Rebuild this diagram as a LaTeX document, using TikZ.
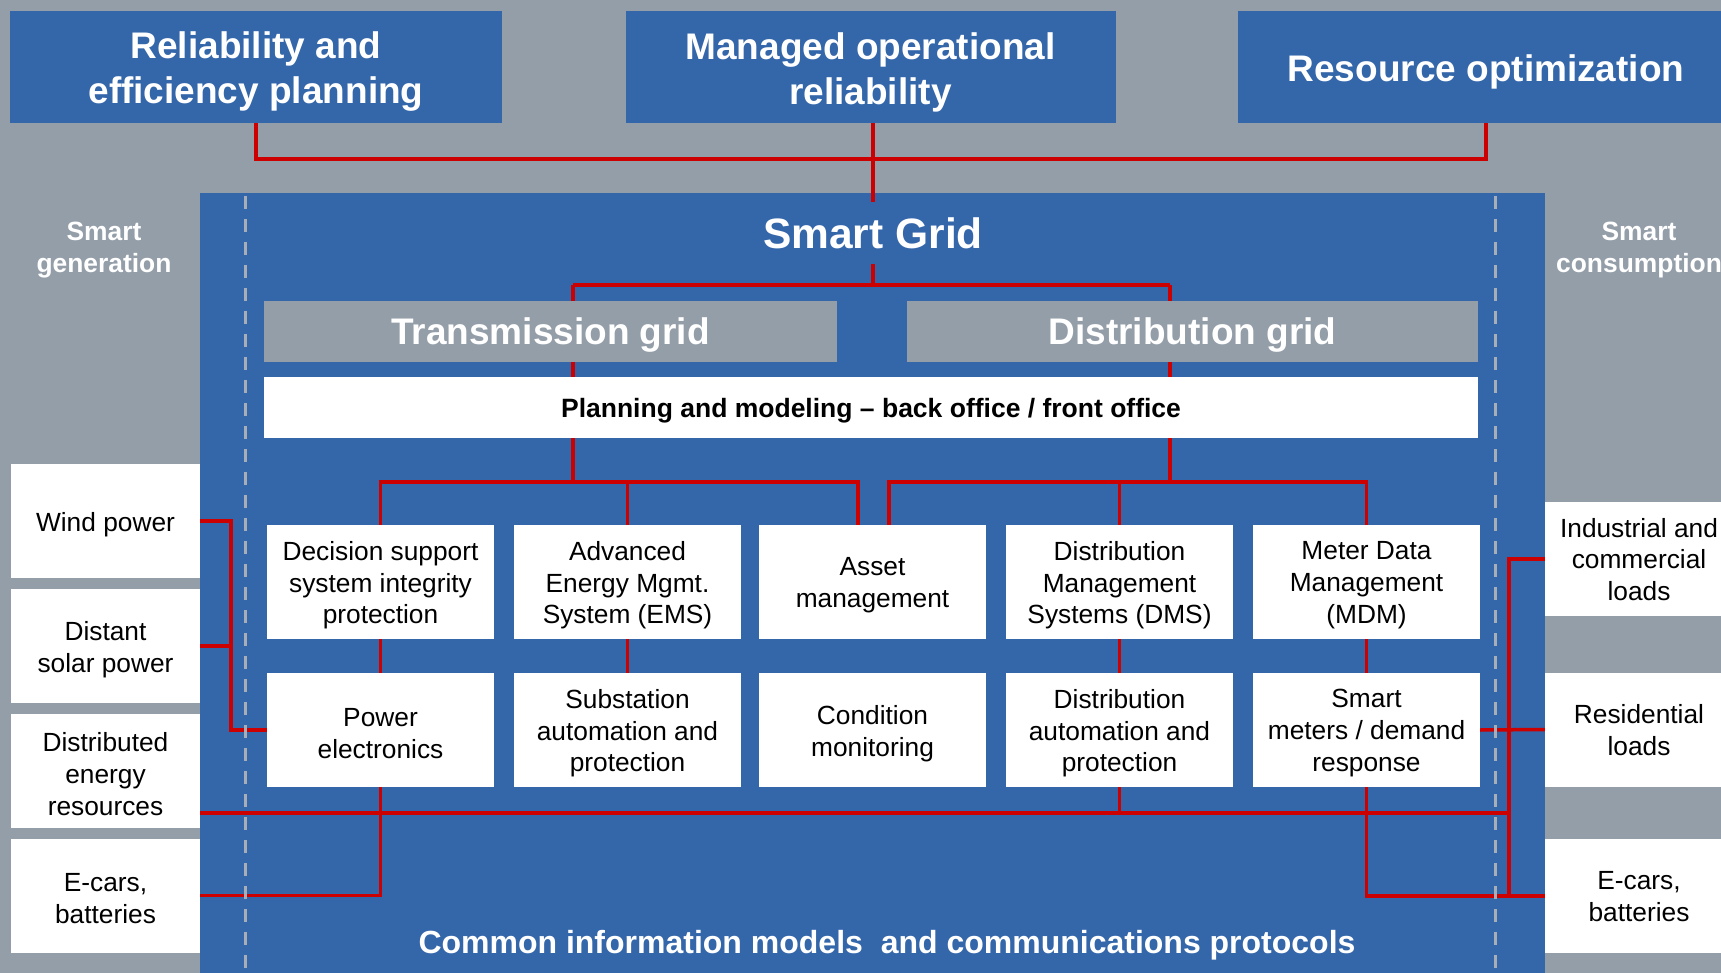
\documentclass[tikz,border=0pt]{standalone}
\usepackage{fontspec}
\setmainfont{Liberation Sans}
\usetikzlibrary{calc}
\pgfdeclarelayer{bgl}
\pgfdeclarelayer{wires}
\pgfsetlayers{bgl,wires,main}
\definecolor{sgblue}{HTML}{3466AA}
\definecolor{sggray}{HTML}{949EA9}
\definecolor{sgred}{HTML}{CC0000}
\definecolor{sgdash}{HTML}{A7AEB8}
\begin{document}
\begin{tikzpicture}[x=1pt,y=-1pt,
  hdrtext/.style={text=white, font=\fontsize{37}{45}\selectfont\bfseries, align=center, inner sep=0pt, yshift=-5pt},
  hdr/.style={fill=sgblue, inner sep=0pt, minimum height=112pt, label={[hdrtext]center:{#1}}},
  gridtext/.style={text=white, font=\fontsize{37}{45}\selectfont\bfseries, inner sep=0pt, yshift=-4pt},
  gridhdr/.style={fill=sggray, inner sep=0pt, minimum height=61pt, label={[gridtext]center:{#1}}},
  plantext/.style={text=black, font=\fontsize{26.5}{30}\selectfont\bfseries, inner sep=0pt, yshift=-3pt},
  boxtext/.style={text=black, font=\fontsize{26.3}{31.8}\selectfont, align=center, inner sep=0pt, yshift=-3.3pt},
  rboxtext/.style={text=black, font=\fontsize{26.3}{31.8}\selectfont, align=center, inner sep=0pt, yshift=-0.5pt},
  wbox/.style={fill=white, inner sep=0pt, minimum width=227pt, minimum height=114pt, label={[boxtext]center:{#1}}},
  sidebox/.style={fill=white, inner sep=0pt, minimum height=114pt, label={[boxtext]center:{#1}}},
  rsidebox/.style={fill=white, inner sep=0pt, minimum height=114pt, label={[rboxtext]center:{#1}}},
  sidelabel/.style={text=white, font=\fontsize{26.4}{32}\selectfont\bfseries, align=center, inner sep=0pt},
  wire/.style={draw=sgred, line width=3.5pt},
  divider/.style={draw=sgdash, line width=3pt, dash pattern=on 13pt off 10pt}]
\useasboundingbox (0,0) rectangle (1721,973);
\begin{pgfonlayer}{bgl}
  \fill[sggray] (0,0) rectangle (1721,973);
  \fill[sgblue] (200,193) rectangle (1545,980);
\end{pgfonlayer}

% top headers
\node[hdr={Reliability and\\efficiency planning}, minimum width=492pt] (top1) at (256,67) {};
\node[hdr={Managed operational\\reliability}, minimum width=490pt] (top2) at (870.5,67) {};
\node[hdr={Resource optimization}, minimum width=496pt] (top3) at (1486,67) {};

% side labels
\node[sidelabel] (sgen) at (104,250) {Smart\\generation};
\node[sidelabel] (scons) at (1639,250) {Smart\\consumption};

% title
\node[fill=sgblue, text=white, font=\fontsize{42.5}{50}\selectfont\bfseries, inner sep=0pt, minimum height=62pt, minimum width=240pt] (title) at (873,233) {Smart Grid};

% grid headers
\node[gridhdr={Transmission grid}, minimum width=573pt] (tg) at (550.5,331.5) {};
\node[gridhdr={Distribution grid}, minimum width=571pt] (dg) at (1192.5,331.5) {};
\node[fill=white, inner sep=0pt, minimum width=1214pt, minimum height=61pt, label={[plantext]center:{Planning and modeling – back office / front office}}] (plan) at (871,407.5) {};

% top row
\node[wbox={Decision support\\system integrity\\protection}] (c1t) at (380.5,582) {};
\node[wbox={Advanced\\Energy Mgmt.\\System (EMS)}] (c2t) at (627.5,582) {};
\node[wbox={Asset\\management}] (c3t) at (872.5,582) {};
\node[wbox={Distribution\\Management\\Systems (DMS)}] (c4t) at (1119.5,582) {};
\node[wbox={Meter Data\\Management\\(MDM)}] (c5t) at (1366.5,582) {};
% bottom row
\node[wbox={Power\\electronics}] (c1b) at (380.5,730) {};
\node[wbox={Substation\\automation and\\protection}] (c2b) at (627.5,730) {};
\node[wbox={Condition\\monitoring}] (c3b) at (872.5,730) {};
\node[wbox={Distribution\\automation and\\protection}] (c4b) at (1119.5,730) {};
\node[wbox={Smart\\meters / demand\\response}] (c5b) at (1366.5,730) {};

% generation side
\node[sidebox={Wind power}, minimum width=189pt] (wind) at (105.5,521) {};
\node[sidebox={Distant\\solar power}, minimum width=189pt] (solar) at (105.5,646) {};
\node[sidebox={Distributed\\energy\\resources}, minimum width=189pt] (der) at (105.5,770.5) {};
\node[sidebox={E-cars,\\batteries}, minimum width=189pt] (ecarl) at (105.5,895.5) {};
% consumption side
\node[rsidebox={Industrial and\\commercial\\loads}, minimum width=188pt] (ind) at (1639,559) {};
\node[rsidebox={Residential\\loads}, minimum width=188pt] (res) at (1639,729.5) {};
\node[rsidebox={E-cars,\\batteries}, minimum width=188pt] (ecarr) at (1639,896) {};

% bottom caption
\node[text=white, font=\fontsize{32}{38}\selectfont\bfseries, inner sep=0pt] (cim) at (887,945) {Common information models\ \ and communications protocols};

% coordinates
\coordinate (hub) at (873,159);
\coordinate (gb) at (873,285);
\coordinate (tj) at (573,285);
\coordinate (dj) at (1170,285);
\coordinate (bl) at (858,482);
\coordinate (br) at (889,482);
\coordinate (genx) at (231,600);
\coordinate (busl) at (200,813);
\coordinate (busr) at (1509,813);
\coordinate (rv) at (1509,559);

\begin{pgfonlayer}{wires}
  \draw[wire] (top1.south) |- (hub) -| (top3.south);
  \draw[wire] (top2.south -| hub) -- (title.north);
  \draw[wire] (title.south) -- (gb);
  \draw[wire] (tj) -- (dj);
  \draw[wire] (tj) -- (tj |- bl);
  \draw[wire] (dj) -- (dj |- br);
  \draw[wire] (c1t.north) |- (bl) -- (bl |- c3t.north);
  \draw[wire] (c2t.north) -- (c2t.north |- bl);
  \draw[wire] (br |- c3t.north) -- (br) -| (c5t.north);
  \draw[wire] (c4t.north) -- (c4t.north |- br);
  \draw[wire] (c1t.south) -- (c1b.north);
  \draw[wire] (c2t.south) -- (c2b.north);
  \draw[wire] (c4t.south) -- (c4b.north);
  \draw[wire] (c5t.south) -- (c5b.north);
  \draw[wire] (wind.east) -| (genx |- c1b.west) -- (c1b.west);
  \draw[wire] (solar.east) -- (solar.east -| genx);
  \draw[wire] (busl) -- (busr);
  \draw[wire] (c4b.south) -- (c4b.south |- busl);
  \draw[wire] (ecarl.east) -| (c1b.south);
  \draw[wire] (ind.west) -- (rv) -- (rv |- ecarr.west);
  \draw[wire] (c5b.east) -- (res.west);
  \draw[wire] (c5b.south) |- (ecarr.west);
\end{pgfonlayer}

% dashed dividers
\draw[divider] (245,196) -- (245,973);
\draw[divider] (1495,196) -- (1495,973);
\end{tikzpicture}
\end{document}
